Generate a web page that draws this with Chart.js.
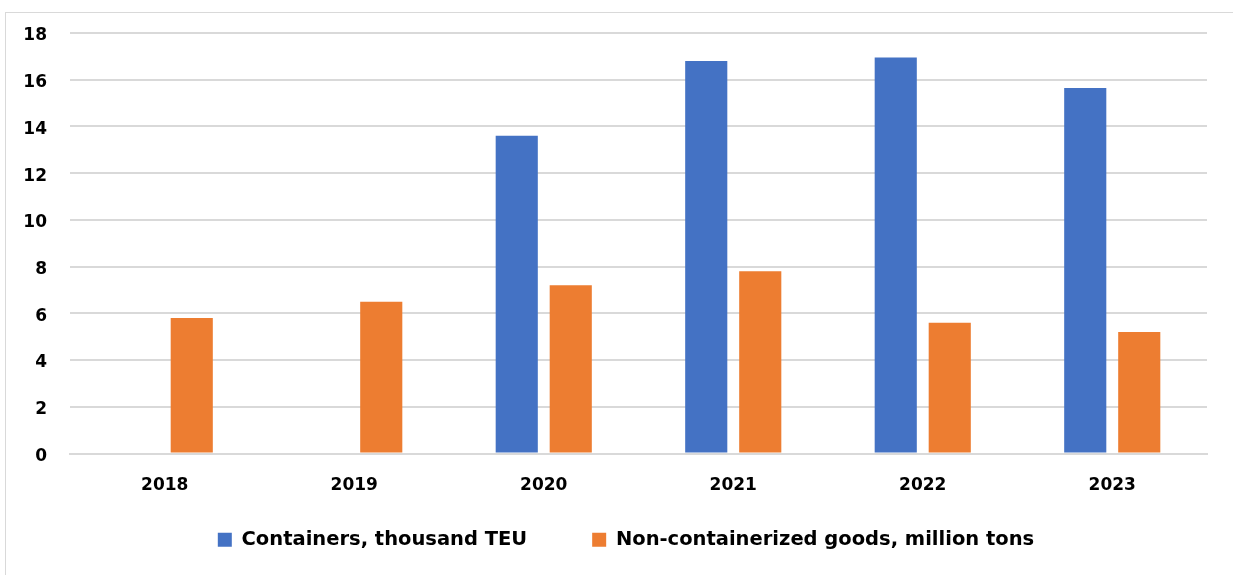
<!DOCTYPE html>
<html>
<head>
<meta charset="utf-8">
<script src="https://cdn.jsdelivr.net/npm/chart.js@4.4.1/dist/chart.umd.min.js"></script>
<style>
  html,body{margin:0;padding:0;background:#fff;overflow:hidden}
  #frame{position:absolute;left:5px;top:12px;width:1240px;height:580px;border:1.5px solid #d9d9d9;box-sizing:border-box}
  #wrap{position:absolute;left:0;top:0;width:1233px;height:575px}
</style>
</head>
<body>
<div id="frame"></div>
<div id="wrap"><canvas id="portChart"></canvas></div>
<script>
const years = ['2018','2019','2020','2021','2022','2023'];
const containers = [null, null, 13.6, 16.8, 16.95, 15.65];
const nonContainerized = [5.8, 6.5, 7.2, 7.8, 5.6, 5.2];
const yTicks = [0, 2, 4, 6, 8, 10, 12, 14, 16, 18];

const font = '"DejaVu Sans", sans-serif';
const gridColor = '#d9d9d9';

new Chart(document.getElementById('portChart'), {
  type: 'bar',
  data: {
    labels: years,
    datasets: [
      { label: 'Containers, thousand TEU', data: containers, backgroundColor: '#4472C4',
        categoryPercentage: 0.57, barPercentage: 0.78 },
      { label: 'Non-containerized goods, million tons', data: nonContainerized, backgroundColor: '#ED7D31',
        categoryPercentage: 0.57, barPercentage: 0.78 }
    ]
  },
  options: {
    responsive: true,
    maintainAspectRatio: false,
    animation: false,
    layout: { padding: { top: 33, right: 26, bottom: 15.5, left: 45 } },
    plugins: {
      tooltip: { enabled: false },
      legend: {
        position: 'bottom',
        labels: {
          boxWidth: 14, boxHeight: 14, padding: 65,
          color: '#000',
          font: { family: font, size: 19.5, weight: 'bold' }
        }
      }
    },
    scales: {
      x: {
        grid: { display: false },
        border: { display: true, color: gridColor, width: 2 },
        // thin axis box keeps the legend close; mirrored ticks are not clipped to the box
        ticks: { mirror: true, padding: -42.5, maxRotation: 0, autoSkip: false, color: '#000',
                 font: { family: font, size: 17, weight: 'bold' } },
        afterFit: s => { s.height = 11.5; }
      },
      y: {
        min: 0, max: 18,
        afterBuildTicks: s => { s.ticks = yTicks.map(v => ({ value: v })); },
        grid: { color: gridColor, lineWidth: 2, drawTicks: false },
        border: { display: false },
        // mirrored + right aligned, pulled back left of the plot
        ticks: { mirror: true, crossAlign: 'far', padding: -46.7, labelOffset: 3, color: '#000',
                 font: { family: font, size: 17, weight: 'bold' } },
        afterFit: s => { s.width = 25; }
      }
    }
  }
});
</script>
</body>
</html>
